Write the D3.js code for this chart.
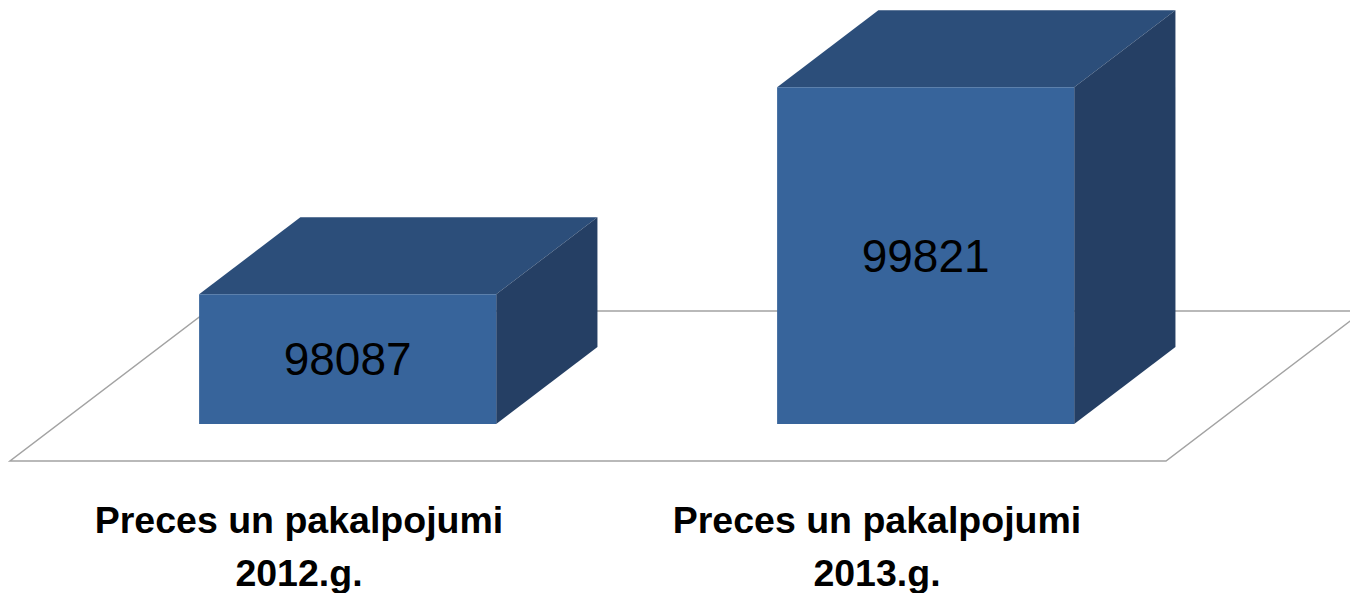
<!DOCTYPE html>
<html>
<head>
<meta charset="utf-8">
<script src="https://cdn.jsdelivr.net/npm/d3@7"></script>
<style>
  body { margin: 0; background: #fff; }
  svg { display: block; }
</style>
</head>
<body>
<div id="chart"></div>
<script>
// data
const categories = ["2012", "2013"];
const values = [98087, 99821];
const labelLines = [
    ["Preces un pakalpojumi", "2012.g."],
    ["Preces un pakalpojumi", "2013.g."]
];
const valueMin = 97000;
const valueMax = 100000;

const width = 1350, height = 593;
const floorFront = 461;     // y of the front edge of the floor
const floorDepth = 150;     // depth of the floor, measured in screen y
const skew = 1.315;         // dx per unit of depth
const barFront = 37, barBack = 114;

const svg = d3.select("#chart").append("svg")
    .attr("width", width)
    .attr("height", height);

const x = d3.scaleBand()
    .domain(categories)
    .range([10, 1166])
    .paddingInner(0.486)
    .paddingOuter(0.243);

const h = d3.scaleLinear()
    .domain([valueMin, valueMax])
    .range([0, 358]);

// project (x, height above floor, depth) to the screen
function pt(px, ph, pz) {
    return [px + pz * skew, floorFront - ph - pz];
}
function poly(points) {
    return points.map(p => p.join(",")).join(" ");
}

// floor
svg.append("polygon")
    .attr("points", poly([
        pt(x.range()[0], 0, 0),
        pt(x.range()[1], 0, 0),
        pt(x.range()[1], 0, floorDepth),
        pt(x.range()[0], 0, floorDepth)
    ]))
    .attr("fill", "#fff")
    .attr("stroke", "#a3a3a3")
    .attr("stroke-width", 1.5);

const bars = svg.selectAll("g.bar")
    .data(categories)
    .enter()
    .append("g")
    .attr("class", "bar");

bars.each(function(c, i) {
    const g = d3.select(this);
    const x0 = x(c), x1 = x(c) + x.bandwidth();
    const top = h(values[i]);
    // top face
    g.append("polygon")
        .attr("points", poly([pt(x0, top, barFront), pt(x1, top, barFront), pt(x1, top, barBack), pt(x0, top, barBack)]))
        .attr("fill", "#2c4e7a");
    // side face
    g.append("polygon")
        .attr("points", poly([pt(x1, 0, barFront), pt(x1, top, barFront), pt(x1, top, barBack), pt(x1, 0, barBack)]))
        .attr("fill", "#253f64");
    // front face
    g.append("polygon")
        .attr("points", poly([pt(x0, 0, barFront), pt(x1, 0, barFront), pt(x1, top, barFront), pt(x0, top, barFront)]))
        .attr("fill", "#37649b");
    // value label
    const c0 = pt((x0 + x1) / 2, top / 2, barFront);
    g.append("text")
        .attr("x", c0[0])
        .attr("y", c0[1])
        .attr("dy", "0.35em")
        .attr("text-anchor", "middle")
        .style("font-family", "'Liberation Sans', Arial, sans-serif")
        .style("font-size", "46px")
        .attr("fill", "#000")
        .text(values[i]);
});

// category labels
const labels = svg.selectAll("text.cat")
    .data(categories)
    .enter()
    .append("text")
    .attr("class", "cat")
    .attr("text-anchor", "middle")
    .style("font-family", "'Liberation Sans', Arial, sans-serif")
    .style("font-size", "37.5px")
    .style("font-weight", "bold")
    .attr("fill", "#000");

labels.selectAll("tspan")
    .data((c, i) => labelLines[i].map(t => ({ t: t, c: c })))
    .enter()
    .append("tspan")
    .attr("x", d => x(d.c) + x.bandwidth() / 2)
    .attr("y", (d, j) => 533 + j * 53)
    .text(d => d.t);
</script>
</body>
</html>
